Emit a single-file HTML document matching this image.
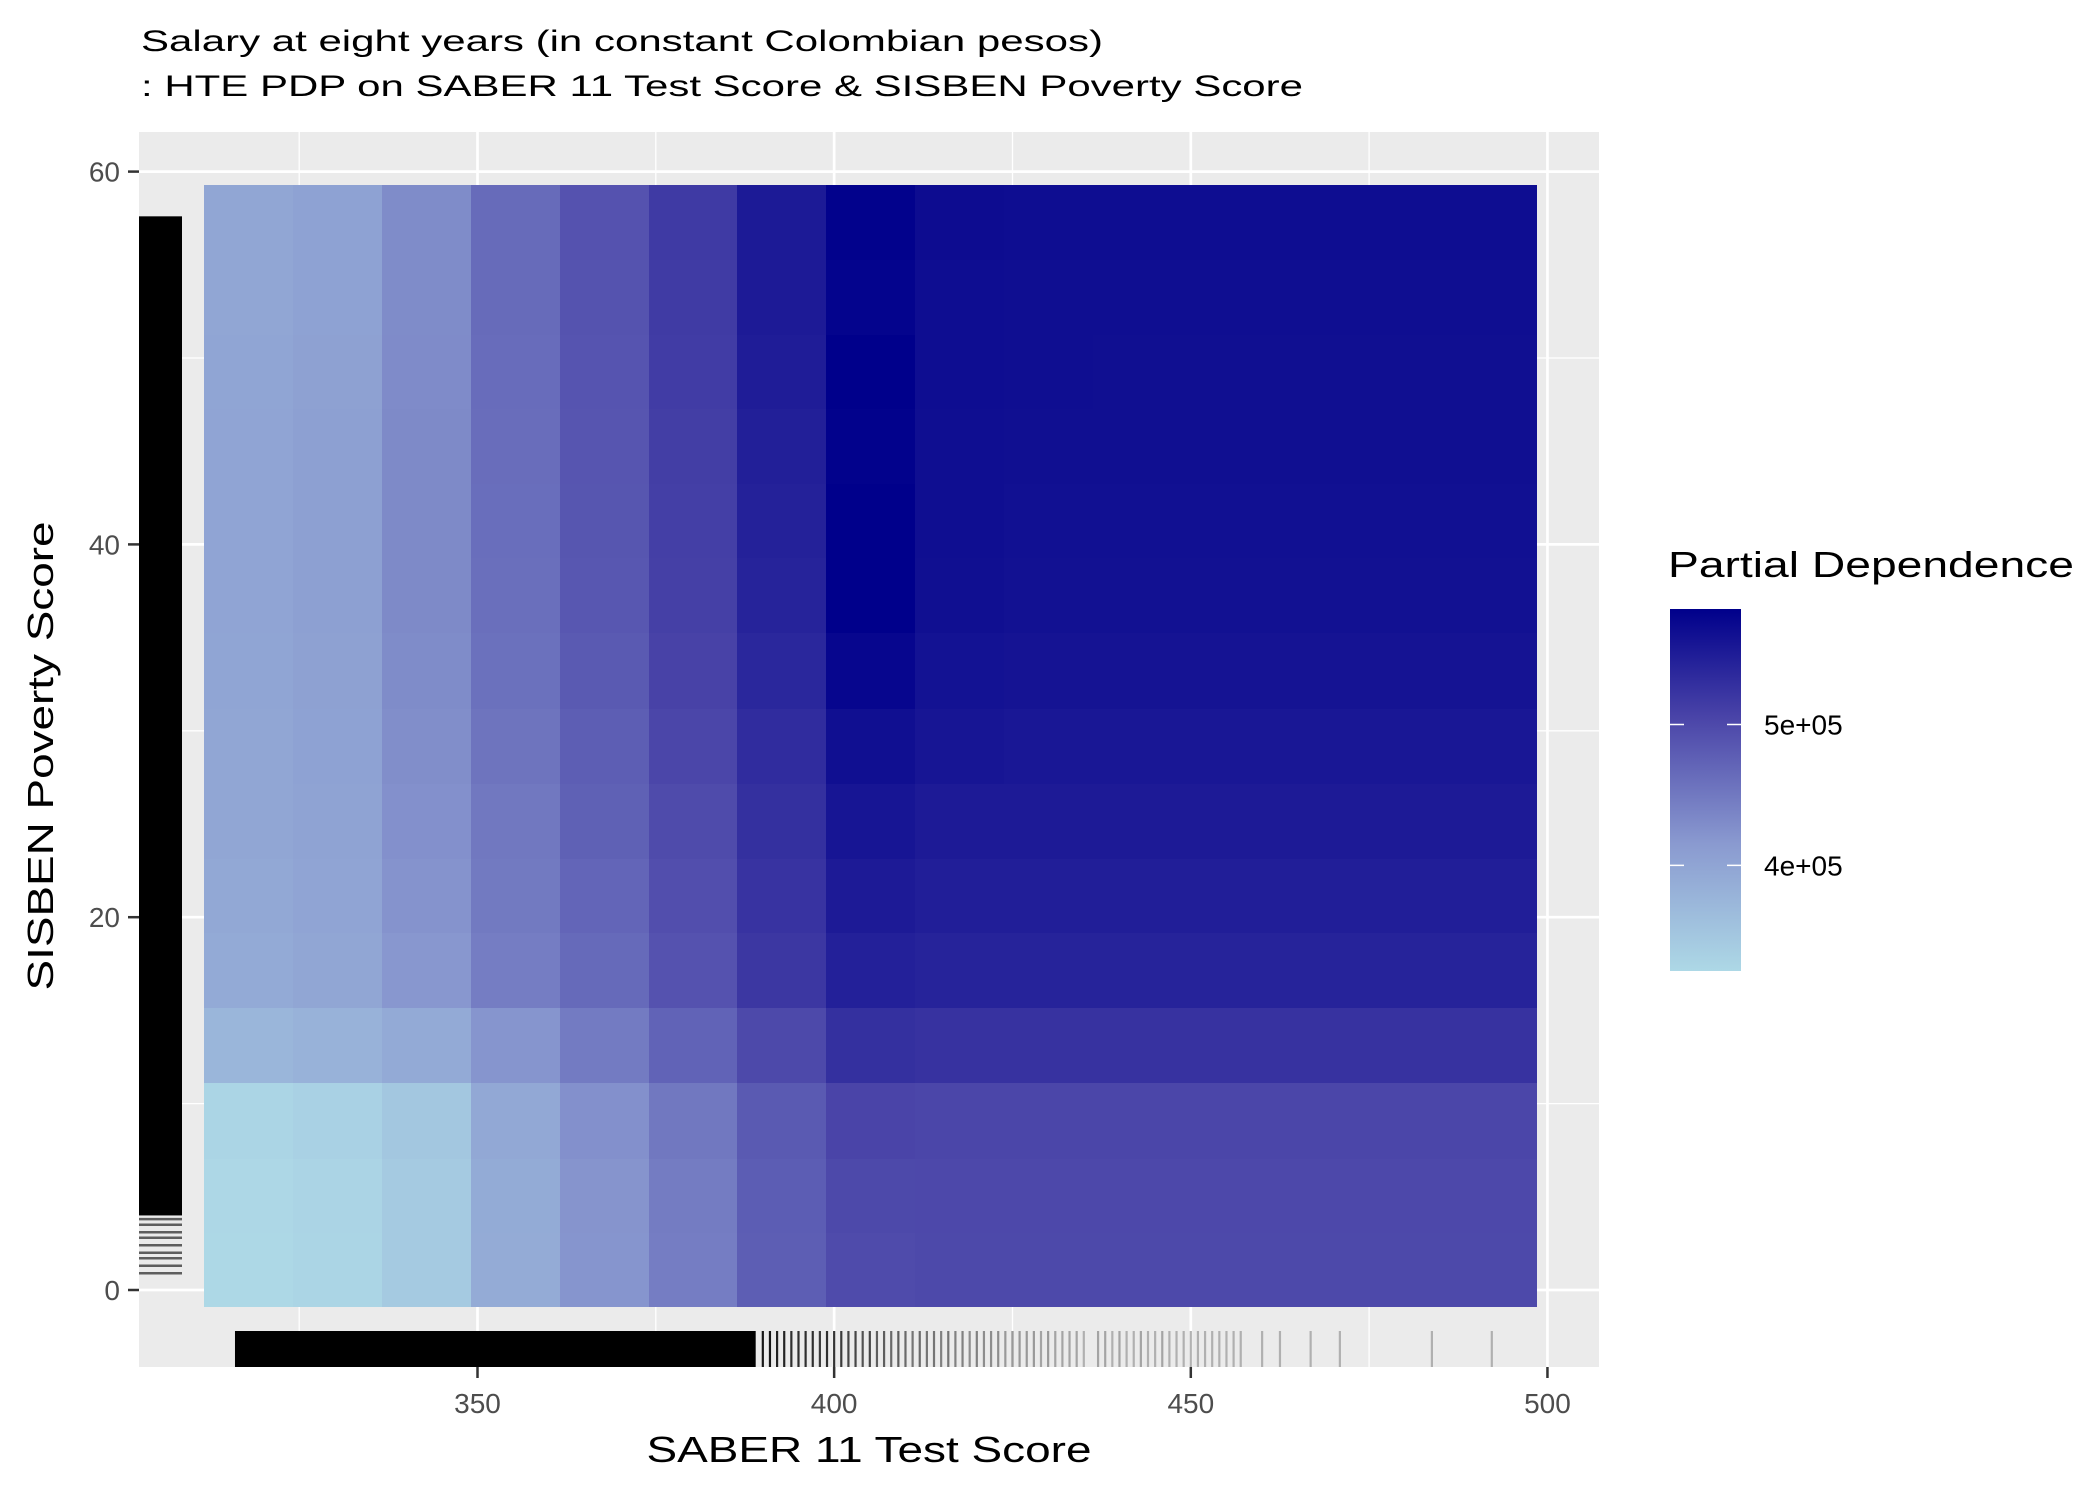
<!DOCTYPE html>
<html><head><meta charset="utf-8"><style>
html,body{margin:0;padding:0;background:#fff;}
svg{display:block;font-family:"Liberation Sans",sans-serif;}
</style></head><body>
<svg id="chart" width="2100" height="1500" viewBox="0 0 2100 1500" xmlns="http://www.w3.org/2000/svg">
<defs>
<linearGradient id="lg" x1="0" y1="1" x2="0" y2="0">
<stop offset="0" stop-color="#ADD8E6"/><stop offset="0.35" stop-color="#8A9AD0"/><stop offset="0.7" stop-color="#4A44A8"/><stop offset="1" stop-color="#00008B"/>
</linearGradient>
</defs>
<g id="titles">
<text x="141" y="51" font-size="30" fill="#000" textLength="962" lengthAdjust="spacingAndGlyphs">Salary at eight years (in constant Colombian pesos)</text>
<text x="141" y="96" font-size="30" fill="#000" textLength="1162" lengthAdjust="spacingAndGlyphs">: HTE PDP on SABER 11 Test Score &amp; SISBEN Poverty Score</text>
</g>
<rect x="139" y="132" width="1460" height="1235" fill="#EBEBEB"/>
<g id="grid"></g>
<g id="tiles" shape-rendering="crispEdges"></g>
<g id="rugs"></g>
<g id="axes"></g>
<g id="legend">
<text x="1668" y="577" font-size="36" fill="#000" textLength="406" lengthAdjust="spacingAndGlyphs">Partial Dependence</text>
<rect x="1670" y="609" width="71" height="362" fill="url(#lg)"/>
</g>
<text x="869" y="1462" font-size="36" text-anchor="middle" fill="#000" textLength="445" lengthAdjust="spacingAndGlyphs">SABER 11 Test Score</text>
<text transform="translate(53,756) rotate(-90)" font-size="36" text-anchor="middle" fill="#000" textLength="469" lengthAdjust="spacingAndGlyphs">SISBEN Poverty Score</text>
</svg>
<script>
const xCenters=[317.9,330.4,342.9,355.3,367.8,380.2,392.7,405.1,417.6,430.1,442.5,455.0,467.4,479.9,492.3];
const yCenters=[1.1,5.1,9.1,13.2,17.2,21.2,25.2,29.2,33.3,37.3,41.3,45.3,49.3,53.3,57.3];
const pdRows=[
[325,330,345,390,420,445,478,498,500,500,500,500,500,500,500],
[326,331,346,391,421,446,479,500,501,501,501,501,501,501,501],
[330,335,350,395,425,450,482,505,503,503,503,503,503,503,503],
[375,380,392,420,447,472,500,528,525,525,525,525,525,525,525],
[392,398,418,445,465,490,520,546,542,542,542,542,542,542,542],
[395,400,422,448,470,494,524,552,548,548,548,548,548,548,548],
[397,402,425,450,475,498,528,558,552,552,552,552,552,552,552],
[398,404,428,455,478,503,532,565,558,556,556,556,556,556,556],
[399,405,430,458,482,507,538,575,562,560,560,560,560,560,560],
[400,406,432,460,485,510,542,582,565,563,563,563,563,563,563],
[400,406,432,461,486,511,545,582,566,564,564,564,564,564,564],
[400,406,432,462,487,512,547,580,566,565,565,565,565,565,565],
[399,405,431,463,488,514,550,582,567,566,565,565,565,565,565],
[398,404,430,464,489,515,552,578,567,566,566,566,566,566,566],
[398,404,430,464,490,516,553,580,568,567,567,567,567,567,567]];
const xTicks=[350,400,450,500];
const xMinor=[325,375,425,475];
const yTicks=[0,20,40,60];
const yMinor=[10,30,50];
const legendTicks=[400,500];
const legendLabels=["4e+05","5e+05"];
const pdMin=325, pdMax=582;
const rugXSolid=[316,389];
const rugXLines=[390,391,392,393,394,395,396,397,398,399,400,401,402,403,404,405,406,407,408,409,410,411,412,413,414,415,416,417,418,419,420,421,422,423,424,425,426,427,428,429,430,431,432,433,434,435,437,438,439,440,441,442,443,444,445,446,447,448,449,450,451,452,453,454,455,456,457,460,462.5,466.8,470.9,483.8,492.2];
const rugXAlpha=[0.9,0.9,0.85,0.85,0.8,0.8,0.8,0.8,0.75,0.8,0.8,0.75,0.7,0.7,0.65,0.7,0.6,0.6,0.55,0.6,0.55,0.5,0.55,0.5,0.5,0.45,0.5,0.45,0.45,0.4,0.45,0.4,0.4,0.4,0.35,0.4,0.35,0.35,0.35,0.3,0.35,0.3,0.3,0.3,0.3,0.25,0.3,0.3,0.25,0.3,0.25,0.25,0.3,0.25,0.25,0.3,0.25,0.25,0.25,0.3,0.25,0.25,0.25,0.25,0.25,0.25,0.25,0.25,0.25,0.25,0.25,0.25,0.25];
const rugYSolid=[4.0,57.6];
const rugYLines=[0.9,1.3,1.7,2.0,2.4,2.8,3.1,3.5,3.8];

const NS="http://www.w3.org/2000/svg";
const X=v=>477.5+(v-350)*7.133;
const Y=v=>1290-v*18.64;
function mk(tag,attrs,parent){const e=document.createElementNS(NS,tag);for(const k in attrs)e.setAttribute(k,attrs[k]);parent.appendChild(e);return e;}
const stops=[[0,[173,216,230]],[0.35,[138,154,208]],[0.7,[74,68,168]],[1,[0,0,139]]];
function col(v){let t=(v-pdMin)/(pdMax-pdMin);t=Math.max(0,Math.min(1,t));
for(let i=1;i<stops.length;i++){if(t<=stops[i][0]){const a=stops[i-1],b=stops[i];const f=(t-a[0])/(b[0]-a[0]);
const c=a[1].map((x,j)=>Math.round(x+(b[1][j]-x)*f));return `rgb(${c.join(',')})`;}}return 'rgb(0,0,139)';}
const grid=document.getElementById('grid');
const P={l:139,r:1599,t:132,b:1367};
xMinor.forEach(v=>{const l=mk('line',{x1:X(v),x2:X(v),y1:P.t,y2:P.b,stroke:'#fff','stroke-width':1.3},grid);

});
yMinor.forEach(v=>{const l=mk('line',{x1:P.l,x2:P.r,y1:Y(v),y2:Y(v),stroke:'#fff','stroke-width':1.3},grid);

});
xTicks.forEach(v=>{const l=mk('line',{x1:X(v),x2:X(v),y1:P.t,y2:P.b,stroke:'#fff','stroke-width':2.7},grid);

});
yTicks.forEach(v=>{const l=mk('line',{x1:P.l,x2:P.r,y1:Y(v),y2:Y(v),stroke:'#fff','stroke-width':2.7},grid);

});
const tiles=document.getElementById('tiles');
function edges(c){const e=[];const n=c.length;
e.push(c[0]-(c[1]-c[0])/2);
for(let i=0;i<n-1;i++)e.push((c[i]+c[i+1])/2);
e.push(c[n-1]+(c[n-1]-c[n-2])/2);return e;}
const xE=edges(xCenters), yE=edges(yCenters);
pdRows.forEach((row,r)=>row.forEach((v,c)=>{
const x0=Math.round(X(xE[c])),x1=Math.round(X(xE[c+1])),y0=Math.round(Y(yE[r+1])),y1=Math.round(Y(yE[r]));
const ex=(c<row.length-1)?1:0, ey=(r>0)?1:0;
const t=mk('rect',{x:x0,y:y0,width:x1-x0+ex,height:y1-y0+ey,fill:col(v)},tiles);

}));
const rugs=document.getElementById('rugs');
const rb={t:1331,b:1367};
const rs=mk('rect',{x:X(rugXSolid[0]),y:rb.t,width:X(rugXSolid[1])-X(rugXSolid[0]),height:rb.b-rb.t,fill:'#000'},rugs);


rugXLines.forEach((v,i)=>{const l=mk('line',{x1:X(v),x2:X(v),y1:rb.t,y2:rb.b,stroke:'#000','stroke-width':2.2,'stroke-opacity':rugXAlpha[i]},rugs);

});
const ry=mk('rect',{x:139,y:Y(rugYSolid[1]),width:43,height:Y(rugYSolid[0])-Y(rugYSolid[1]),fill:'#000'},rugs);


rugYLines.forEach(v=>{const l=mk('line',{x1:139,x2:182,y1:Y(v),y2:Y(v),stroke:'#000','stroke-width':2.5,'stroke-opacity':0.6},rugs);

});
const axes=document.getElementById('axes');
xTicks.forEach(v=>{const l=mk('line',{x1:X(v),x2:X(v),y1:1367,y2:1378,stroke:'#333','stroke-width':2.5},axes);


const t=mk('text',{x:X(v),y:1413,'font-size':28,'text-anchor':'middle',fill:'#4D4D4D'},axes);t.textContent=v;

});
yTicks.forEach(v=>{const l=mk('line',{x1:128,x2:139,y1:Y(v),y2:Y(v),stroke:'#333','stroke-width':2.5},axes);


const t=mk('text',{x:120,y:Y(v)+10,'font-size':28,'text-anchor':'end',fill:'#4D4D4D'},axes);t.textContent=v;

});
const leg=document.getElementById('legend');
const LY=v=>971-(v-pdMin)/(pdMax-pdMin)*(971-609);
legendTicks.forEach((v,i)=>{
[[1670,1684],[1727,1741]].forEach(p=>{const l=mk('line',{x1:p[0],x2:p[1],y1:LY(v),y2:LY(v),stroke:'#fff','stroke-width':1.5},leg);

});
const t=mk('text',{x:1764,y:LY(v)+10,'font-size':28,fill:'#000'},leg);t.textContent=legendLabels[i];

});
</script>
</body></html>
